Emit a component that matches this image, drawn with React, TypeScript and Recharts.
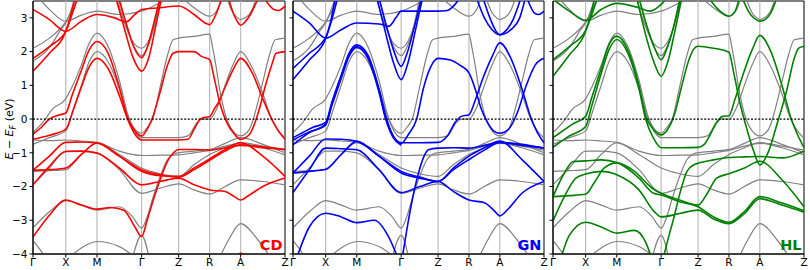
import React from 'react';
import { LineChart, Line, XAxis, YAxis, ReferenceLine, ReferenceArea } from 'recharts';

type Pt = [number, number];

// high-symmetry path: position of each point along the k axis (0..1)
const kTicks = [0, 0.13, 0.254, 0.431, 0.578, 0.701, 0.824, 1];
const kLabels = ['Γ', 'X', 'M', 'Γ', 'Z', 'R', 'A', 'Z'];
const eTicks = [-4, -3, -2, -1, 0, 1, 2, 3];

// bands are [segment position, E - E_F]; segment 0 = Γ, 1 = X, 2 = M, 3 = Γ, 4 = Z, 5 = R, 6 = A, 7 = Z
const grayUpper: Pt[][] = [
  [[0, 3.8], [0.5, 3.25], [1, 2.9], [1.5, 3.08], [2, 3.2], [2.5, 3.1], [3, 3.2], [3.5, 3.45], [3.9, 3.65]],
  [[0, 2.1], [0.5, 2.4], [1, 2.88], [1.25, 3.3], [1.4, 3.65]],
  [[0, 1.72], [0.5, 2.12], [0.85, 2.65], [1, 2.85], [1.2, 3.3], [1.35, 3.65]],
  [[2.44, 3.6], [2.63, 2.8], [2.8, 2.3], [3, 2.1], [3.18, 2.3], [3.36, 2.8], [3.54, 3.6]],
  [[2.5, 3.6], [2.67, 2.75], [2.83, 2.15], [3, 1.88], [3.15, 2.12], [3.33, 2.7], [3.5, 3.6]],
  [[4.05, 3.65], [4.5, 3.3], [5, 3.05], [5.25, 3.25], [5.4, 3.65]],
  [[5.55, 3.6], [5.75, 3.15], [5.9, 3.0], [6, 2.95], [6.1, 3.0], [6.22, 3.15], [6.36, 3.6]],
];

const grayMid: Pt[][] = [
  [[0, -0.4], [0.3, -0.1], [0.6, 0.3], [1, 0.6], [1.2, 0.95], [1.5, 1.6], [1.75, 2.25], [2, 2.55], [2.25, 2.15], [2.5, 1.15], [2.7, 0.1], [2.85, -0.3], [3, -0.42], [3.15, -0.25], [3.3, 0.0], [3.5, 0.95], [3.7, 1.9], [3.85, 2.35], [4, 2.4], [4.5, 2.45], [5, 2.52], [5.1, 2.1], [5.2, 1.6], [5.32, 0.9], [5.5, 0.15], [5.75, -0.35], [6, -0.5], [6.2, -0.3], [6.35, 0.3], [6.5, 1.1], [6.65, 1.9], [6.78, 2.35], [7, 2.4]],
  [[0, -0.75], [0.5, -0.55], [1, -0.35], [1.25, 0.3], [1.5, 1.0], [1.75, 1.7], [2, 2.0], [2.25, 1.7], [2.5, 0.9], [2.7, 0.05], [2.85, -0.38], [3, -0.55], [3.5, -0.55], [4, -0.55], [4.3, -0.5], [4.6, -0.1], [4.75, 0.0], [5, 0.0], [5.25, 0.35], [5.5, 1.0], [5.75, 1.6], [6, 2.0], [6.25, 1.55], [6.5, 0.75], [6.7, 0.0], [6.85, -0.35], [7, -0.56]],
];

const grayLower: Pt[][] = [
  [[0, -1.55], [0.5, -1.53], [1, -1.5], [1.5, -1.05], [2, -0.7], [2.5, -1.05], [3, -1.45], [3.5, -1.62], [4, -1.7], [4.5, -1.35], [5, -1.05], [5.5, -0.85], [6, -0.7], [6.5, -0.8], [7, -0.92]],
  [[0, -0.62], [0.5, -0.64], [1, -0.62], [1.5, -0.65], [2, -0.69], [2.5, -0.95], [3, -1.08], [3.5, -1.07], [4, -1.06], [4.5, -1.0], [5, -0.93], [5.5, -0.8], [6, -0.72], [6.5, -0.85], [7, -1.06]],
  [[0, -1.95], [0.5, -1.45], [1, -0.95], [1.5, -0.95], [2, -1.0], [2.5, -1.5], [3, -2.2], [3.5, -2.05], [4, -1.92], [4.5, -2.1], [5, -2.22], [5.5, -2.0], [6, -1.8], [6.5, -1.85], [7, -1.95]],
  [[0, -3.23], [0.5, -2.75], [1, -2.42], [1.5, -2.55], [2, -2.7], [2.5, -2.6], [2.8, -2.9], [3, -3.23], [3.15, -2.9], [3.3, -2.35], [3.5, -1.7], [3.7, -1.2], [3.9, -1.02], [4, -1.0], [4.5, -0.95], [5, -0.9], [5.5, -0.72], [6, -0.55], [6.5, -0.75], [7, -1.0]],
  [[1.05, -4.15], [1.5, -3.82], [2, -3.63], [2.5, -3.78], [2.9, -4.15]],
  [[5.3, -4.15], [5.6, -3.6], [6, -3.1], [6.4, -3.6], [6.7, -4.15]],
  [[2.8, -4.1], [3, -3.45], [3.2, -4.1]],
  [[0, -3.6], [0.2, -3.85], [0.4, -4.15]],
];

const cdBands: Pt[][] = [
  [[0, 3.25], [0.5, 2.95], [1, 2.6], [1.5, 2.9], [2, 3.1], [2.4, 3.0], [2.65, 2.88], [2.85, 3.1], [3, 3.25], [3.5, 3.3], [4, 3.35], [4.5, 3.1], [4.85, 2.85], [5, 2.8], [5.2, 3.1], [5.4, 3.6]],
  [[0, 1.8], [0.5, 2.15], [1, 2.6], [1.2, 3.1], [1.4, 3.65]],
  [[0, 1.42], [0.5, 1.95], [1, 2.6], [1.15, 3.05], [1.3, 3.65]],
  [[2.48, 3.6], [2.65, 2.85], [2.82, 2.15], [3, 1.82], [3.16, 2.15], [3.33, 2.85], [3.5, 3.6]],
  [[2.42, 3.6], [2.6, 2.75], [2.8, 1.85], [3, 1.42], [3.2, 1.85], [3.38, 2.75], [3.54, 3.6]],
  [[5.6, 3.6], [5.78, 3.1], [5.9, 2.88], [6, 2.78], [6.1, 2.88], [6.22, 3.1], [6.4, 3.6]],
  [[6.5, 3.65], [6.75, 3.25], [6.85, 3.22], [7, 3.35]],
  [[0, -0.45], [0.25, -0.25], [0.5, 0.0], [0.8, 0.12], [1, 0.18], [1.2, 0.7], [1.5, 1.45], [1.75, 2.05], [2, 2.3], [2.25, 1.95], [2.5, 0.95], [2.68, 0.05], [2.85, -0.35], [3, -0.5], [3.15, -0.3], [3.28, 0.0], [3.5, 0.8], [3.7, 1.6], [3.85, 1.95], [4, 2.0], [4.5, 2.0], [4.75, 1.85], [5, 1.76], [5.15, 1.2], [5.35, 0.4], [5.55, -0.1], [5.8, -0.45], [6, -0.6], [6.2, -0.45], [6.4, 0.2], [6.55, 0.95], [6.7, 1.6], [6.8, 1.95], [7, 2.0]],
  [[0, -0.6], [0.5, -0.48], [1, -0.3], [1.25, 0.3], [1.5, 0.95], [1.75, 1.55], [2, 1.8], [2.25, 1.5], [2.5, 0.7], [2.7, -0.05], [2.85, -0.45], [3, -0.62], [3.5, -0.62], [4, -0.62], [4.3, -0.6], [4.5, -0.3], [4.7, 0.0], [4.85, 0.05], [5, 0.07], [5.15, 0.3], [5.33, 0.57], [5.5, 0.95], [5.75, 1.45], [6, 1.8], [6.25, 1.4], [6.5, 0.6], [6.7, 0.0], [6.85, -0.35], [7, -0.6]],
  [[0, -1.52], [0.5, -1.1], [1, -0.69], [1.5, -0.68], [2, -0.71], [2.5, -1.1], [3, -1.5], [3.5, -1.65], [4, -1.72], [4.5, -1.5], [5, -1.22], [5.5, -0.95], [6, -0.76], [6.5, -0.85], [7, -0.9]],
  [[0, -1.95], [0.5, -1.4], [1, -0.96], [1.5, -0.95], [2, -1.01], [2.5, -1.45], [3, -1.95], [3.5, -1.85], [4, -1.75], [4.5, -1.95], [5, -2.1], [5.5, -2.15], [5.8, -2.3], [6, -2.4], [6.2, -2.25], [6.5, -2.0], [7, -1.75]],
  [[0, -1.52], [0.5, -1.5], [1, -1.45], [1.5, -1.05], [2, -0.71], [2.5, -1.1], [3, -1.55], [3.5, -1.68], [4, -1.7], [4.5, -1.45], [5, -1.18], [5.5, -0.9], [6, -0.7], [6.5, -1.1], [7, -1.7]],
  [[0, -3.5], [0.5, -2.85], [1, -2.4], [1.5, -2.55], [2, -2.67], [2.3, -2.62], [2.6, -2.7], [2.85, -3.2], [3, -3.48], [3.15, -3.0], [3.3, -2.45], [3.5, -1.8], [3.7, -1.25], [3.86, -1.0], [4, -0.9], [4.5, -0.9], [5, -0.92], [5.5, -0.85], [6, -0.78], [6.5, -0.82], [7, -0.9]],
  [[5.75, -4.3], [6, -3.98], [6.25, -4.3]],
];

const gnBands: Pt[][] = [
  [[0, 3.2], [0.5, 2.85], [1, 2.4], [1.5, 2.65], [2, 2.85], [2.5, 2.82], [2.72, 2.75], [2.88, 3.0], [3, 3.2], [3.5, 3.2], [4, 3.2], [4.3, 3.22], [4.55, 3.4], [4.75, 3.65]],
  [[0, 1.5], [0.5, 1.95], [1, 2.42], [1.2, 2.95], [1.4, 3.65]],
  [[0, 1.17], [0.5, 1.75], [1, 2.38], [1.15, 2.85], [1.32, 3.65]],
  [[2.5, 3.6], [2.68, 2.7], [2.84, 2.0], [3, 1.56], [3.16, 1.95], [3.35, 2.7], [3.55, 3.6]],
  [[2.45, 3.6], [2.64, 2.6], [2.82, 1.7], [3, 1.17], [3.18, 1.65], [3.38, 2.6], [3.58, 3.6]],
  [[5.24, 3.6], [5.5, 3.0], [5.75, 2.65], [6, 2.5], [6.25, 2.65], [6.45, 3.0], [6.58, 3.6]],
  [[5.45, 3.6], [5.7, 2.95], [5.88, 2.6], [6, 2.5], [6.12, 2.6], [6.3, 2.95], [6.48, 3.6]],
  [[6.6, 3.65], [6.78, 3.15], [6.88, 3.1], [7, 3.2]],
  [[0, -0.55], [0.3, -0.4], [0.6, -0.25], [1, -0.1], [1.2, 0.5], [1.5, 1.3], [1.75, 1.95], [2, 2.2], [2.25, 1.9], [2.5, 0.9], [2.65, 0.1], [2.82, -0.5], [3, -0.72], [3.2, -0.45], [3.42, 0.0], [3.6, 0.9], [3.8, 1.55], [4, 1.8], [4.4, 1.75], [4.7, 1.6], [5, 1.37], [5.2, 0.9], [5.4, 0.3], [5.6, -0.1], [5.8, -0.35], [6, -0.42], [6.2, -0.3], [6.4, 0.2], [6.6, 1.0], [6.8, 1.6], [7, 1.8]],
  [[0, -0.76], [0.5, -0.4], [1, -0.15], [1.2, 0.45], [1.5, 1.25], [1.75, 1.9], [2, 2.15], [2.25, 1.85], [2.5, 0.85], [2.65, 0.05], [2.82, -0.5], [3, -0.7], [3.5, -0.7], [4, -0.69], [4.3, -0.5], [4.55, -0.1], [4.75, 0.08], [5, 0.13], [5.2, 0.55], [5.45, 1.2], [5.75, 1.85], [6, 2.26], [6.25, 1.8], [6.5, 0.9], [6.7, 0.05], [6.85, -0.4], [7, -0.7]],
  [[0, -0.62], [0.5, -0.38], [1, -0.18], [1.2, 0.4], [1.5, 1.2], [1.75, 1.85], [2, 2.12], [2.25, 1.8], [2.5, 0.8], [2.65, 0.0], [2.82, -0.55], [3, -0.78]],
  [[0.12, -4.1], [0.5, -3.2], [1, -2.79], [1.5, -2.9], [2, -3.07], [2.4, -3.0], [2.7, -3.45], [2.92, -4.1]],
  [[0, -1.6], [0.5, -1.1], [1, -0.59], [1.5, -0.6], [2, -0.66], [2.5, -1.1], [3, -1.55], [3.5, -1.72], [4, -1.85], [4.5, -1.5], [5, -1.2], [5.5, -0.92], [6, -0.69], [6.5, -0.75], [7, -0.86]],
  [[0, -2.18], [0.5, -1.5], [1, -0.86], [1.5, -0.88], [2, -0.91], [2.5, -1.5], [3, -2.18], [3.5, -2.0], [4, -1.85], [4.5, -2.15], [5, -2.4], [5.5, -2.48], [5.8, -2.7], [6, -2.87], [6.2, -2.65], [6.5, -2.2], [7, -1.85]],
  [[0, -1.6], [0.5, -1.55], [1, -1.49], [1.5, -1.05], [2, -0.66], [2.5, -1.1], [3, -1.6], [3.5, -1.75], [4, -1.85], [4.5, -1.45], [5, -1.1], [5.5, -0.85], [6, -0.65], [6.5, -1.2], [7, -1.85]],
  [[3.03, -4.1], [3.15, -3.3], [3.3, -2.4], [3.47, -1.6], [3.6, -1.15], [3.74, -0.91], [4, -0.86], [4.5, -0.85], [5, -0.86], [5.5, -0.78], [6, -0.69], [6.5, -0.78], [7, -0.86]],
];

const hlBands: Pt[][] = [
  [[0, 3.55], [0.5, 3.2], [1, 2.93], [1.5, 3.25], [2, 3.43], [2.5, 3.3], [2.75, 3.2], [3, 3.4], [3.2, 3.65]],
  [[0, 1.76], [0.5, 2.15], [1, 2.63], [1.2, 3.1], [1.4, 3.65]],
  [[0, 1.27], [0.5, 1.9], [1, 2.6], [1.15, 3.05], [1.3, 3.65]],
  [[2.5, 3.6], [2.68, 2.75], [2.84, 2.15], [3, 1.76], [3.16, 2.1], [3.34, 2.75], [3.52, 3.6]],
  [[2.45, 3.6], [2.63, 2.6], [2.82, 1.75], [3, 1.27], [3.18, 1.7], [3.37, 2.6], [3.56, 3.6]],
  [[4.3, 3.65], [4.6, 3.3], [5, 3.05], [5.2, 3.2], [5.35, 3.65]],
  [[5.4, 3.65], [5.7, 3.1], [5.88, 2.95], [6, 2.9], [6.12, 2.95], [6.25, 3.15], [6.4, 3.65]],
  [[0, -0.55], [0.3, -0.35], [0.6, -0.15], [1, 0.08], [1.2, 0.65], [1.5, 1.5], [1.75, 2.2], [2, 2.46], [2.25, 2.05], [2.5, 1.0], [2.65, 0.1], [2.82, -0.3], [3, -0.47], [3.18, -0.3], [3.35, 0.1], [3.55, 0.95], [3.75, 1.75], [3.9, 2.1], [4, 2.16], [4.5, 2.1], [5, 1.98], [5.15, 1.4], [5.35, 0.5], [5.55, -0.2], [5.8, -0.95], [6, -1.36], [6.2, -0.95], [6.4, -0.1], [6.6, 0.8], [6.78, 1.8], [6.88, 2.1], [7, 2.16]],
  [[0, -0.84], [0.5, -0.5], [1, -0.22], [1.2, 0.4], [1.5, 1.35], [1.75, 2.05], [2, 2.36], [2.25, 1.95], [2.5, 0.9], [2.65, 0.0], [2.82, -0.55], [3, -0.85], [3.5, -0.85], [4, -0.84], [4.2, -0.75], [4.4, -0.45], [4.6, -0.1], [4.8, 0.08], [5, 0.1], [5.2, 0.6], [5.45, 1.3], [5.75, 2.05], [6, 2.48], [6.25, 2.0], [6.5, 1.0], [6.7, 0.05], [6.85, -0.45], [7, -0.85]],
  [[0.25, -4.1], [0.5, -3.45], [1, -3.06], [1.5, -3.2], [2, -3.38], [2.4, -3.3], [2.65, -3.65], [2.78, -4.1]],
  [[0, -2.3], [0.35, -1.6], [0.62, -1.26], [1, -1.24], [1.5, -1.21], [2, -1.29], [2.5, -1.75], [2.83, -2.2], [3, -2.25], [3.5, -2.45], [4, -2.6], [4.5, -2.9], [5, -3.06], [5.5, -2.74], [6, -2.3], [6.5, -2.49], [7, -2.72]],
  [[0, -2.3], [0.5, -2.27], [1, -2.23], [1.3, -1.85], [1.6, -1.45], [2, -1.3], [2.4, -1.55], [2.8, -2.05], [3, -2.2], [3.5, -2.4], [4, -2.55], [4.3, -2.2], [4.6, -1.75], [5, -1.62], [5.5, -1.45], [6, -1.25], [6.5, -1.8], [7, -2.6]],
  [[0, -3.02], [0.4, -2.2], [0.7, -1.75], [1, -1.63], [1.5, -1.55], [2, -1.65], [2.5, -2.1], [2.85, -2.75], [3, -2.9], [3.5, -2.8], [4, -2.7], [4.5, -2.96], [5, -3.1], [5.5, -2.8], [6, -2.36], [6.5, -2.55], [7, -2.76]],
  [[3.06, -4.1], [3.2, -3.5], [3.34, -2.94], [3.52, -2.15], [3.7, -1.55], [3.88, -1.36], [4, -1.31], [4.5, -1.21], [5, -1.14], [5.5, -1.12], [6, -1.11], [6.52, -1.15], [7, -0.95]],
];

const grayBands = [...grayUpper, ...grayMid, ...grayLower];

const toK = (s: number) => {
  const i = Math.min(Math.floor(s), 6);
  return kTicks[i] + (s - i) * (kTicks[i + 1] - kTicks[i]);
};
const toRows = (band: Pt[]) => band.map(([s, e]) => ({ k: toK(s), e }));

const FONT = '"DejaVu Sans", sans-serif';
const tickStyle = { fontSize: 10.5, fill: '#000', fontFamily: FONT };

interface PanelProps {
  left: number;
  width: number;
  right: number;
  yWidth: number;
  color: string;
  label: string;
  bands: Pt[][];
  showY: boolean;
}

const Panel: React.FC<PanelProps> = ({ left, width, right, yWidth, color, label, bands, showY }) => {
  const plotRight = left + width - right;
  return (
    <>
      <div style={{ position: 'absolute', left, top: 0 }}>
        <LineChart width={width} height={270} margin={{ top: 1, right, bottom: 0, left: 0 }}>
          <XAxis
            type="number"
            dataKey="k"
            domain={[0, 1]}
            ticks={kTicks}
            interval={0}
            tickFormatter={(_v: number, i: number) => kLabels[i]}
            height={16}
            tickSize={3.5}
            tickMargin={1.5}
            tick={tickStyle}
            stroke="#000"
          />
          <YAxis
            type="number"
            domain={[-4, 3.5]}
            ticks={eTicks}
            interval={0}
            allowDataOverflow
            width={yWidth}
            tickSize={3.5}
            tickMargin={2}
            tickFormatter={(v: number) => (showY ? String(v).replace('-', '\u2212') : '')}
            tick={tickStyle}
            stroke="#000"
          />
          {kTicks.slice(1, -1).map((k, i) => (
            <ReferenceLine key={'v' + i} x={k} stroke="#bcbcbc" strokeWidth={1.2} />
          ))}
          {grayBands.map((b, i) => (
            <Line key={'g' + i} data={toRows(b)} dataKey="e" type="monotone" stroke="#808080"
              strokeWidth={1.2} dot={false} isAnimationActive={false} />
          ))}
          {bands.map((b, i) => (
            <Line key={'c' + i} data={toRows(b)} dataKey="e" type="monotone" stroke={color}
              strokeWidth={1.6} dot={false} isAnimationActive={false} />
          ))}
          <ReferenceLine y={0} stroke="#000" strokeWidth={1.2} strokeDasharray="2 1.6" />
          <ReferenceArea x1={0} x2={1} y1={-4} y2={3.5} fill="none" stroke="#000" strokeWidth={1} />
        </LineChart>
      </div>
      <div style={{
        position: 'absolute',
        left: plotRight - 60,
        width: 57.5,
        top: 238,
        textAlign: 'right',
        fontFamily: FONT,
        fontWeight: 'bold',
        fontSize: 14.5,
        lineHeight: 1,
        color,
      }}>
        {label}
      </div>
    </>
  );
};

export default function App() {
  return (
    <div style={{ position: 'absolute', left: 0, top: 0, width: 810, height: 270, background: '#fff', overflow: 'hidden' }}>
      <Panel left={0} width={295} right={10} yWidth={33} color="#ff0000" label="CD" bands={cdBands} showY />
      <Panel left={287} width={266} right={9} yWidth={6} color="#0000ff" label="GN" bands={gnBands} showY={false} />
      <Panel left={547} width={263} right={6} yWidth={6} color="#008000" label="HL" bands={hlBands} showY={false} />
      <div style={{
        position: 'absolute',
        left: 9,
        top: 129,
        transform: 'translate(-50%, -50%) rotate(-90deg)',
        whiteSpace: 'nowrap',
        fontFamily: FONT,
        fontSize: 11,
        lineHeight: 1,
      }}>
        <i>E</i> − <i>E</i><sub style={{ fontSize: 8, lineHeight: 0 }}><i>F</i></sub> (eV)
      </div>
    </div>
  );
}
